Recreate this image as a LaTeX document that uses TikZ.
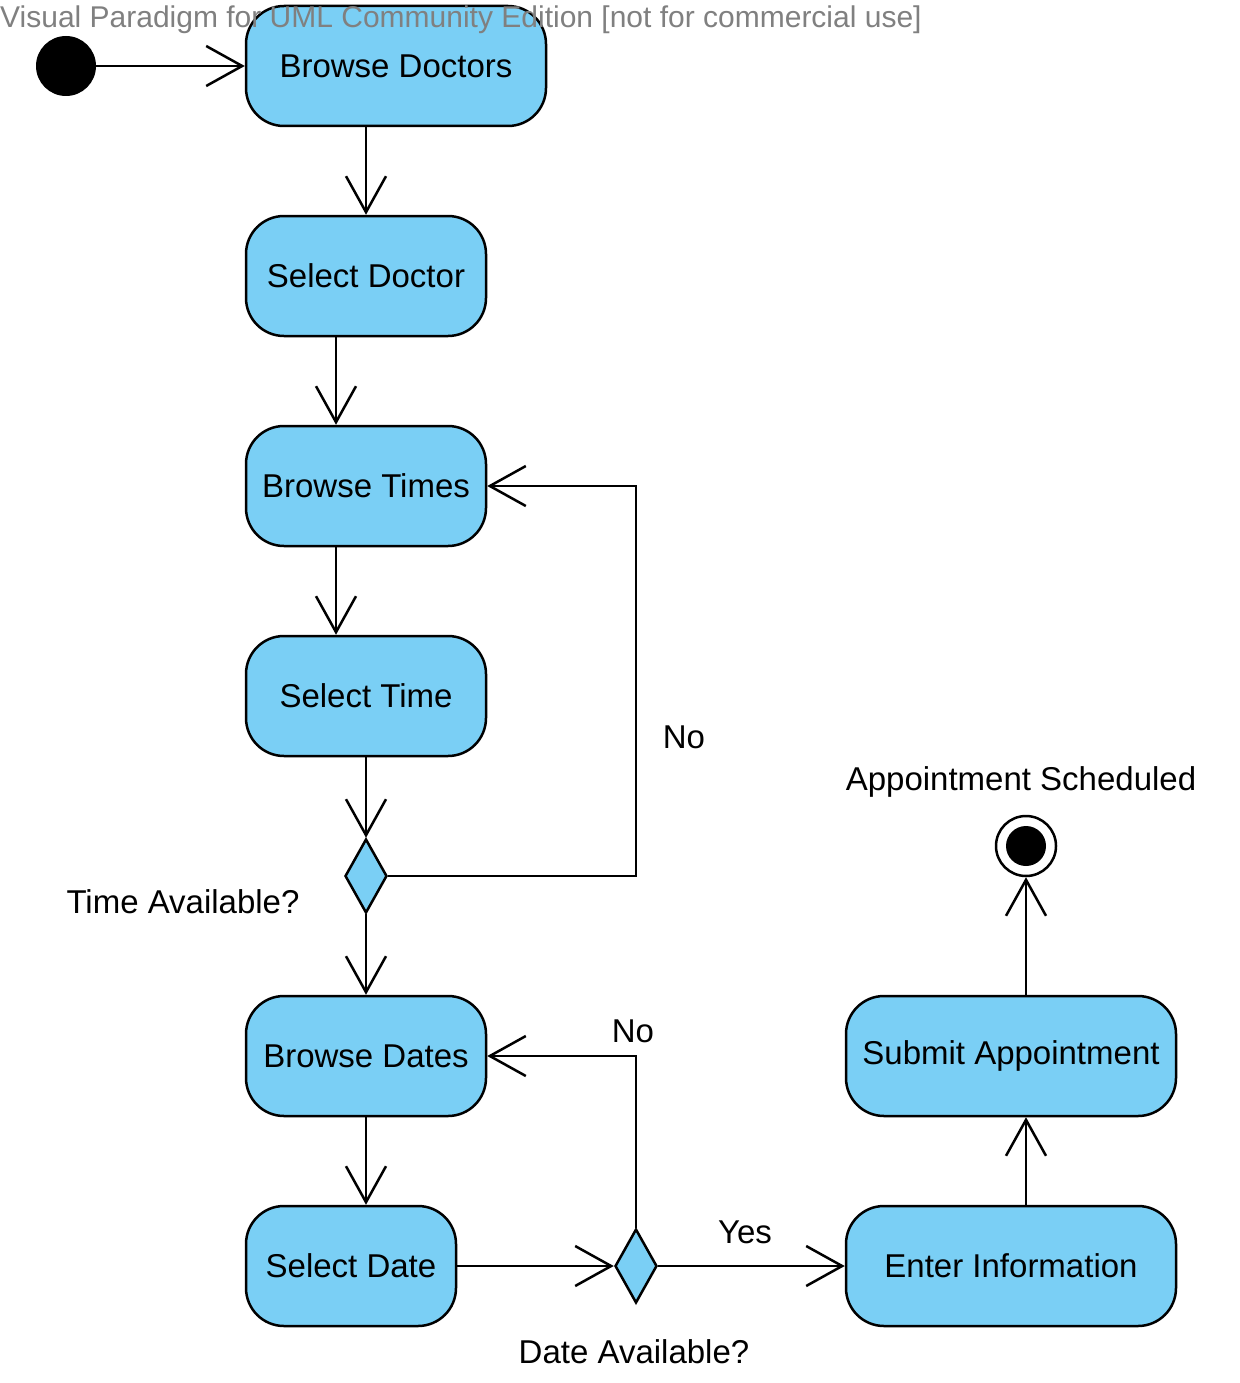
\documentclass[tikz,border=0pt]{standalone}
\usepackage{fontspec}
\setmainfont{Liberation Sans}
\usetikzlibrary{arrows.meta,shapes.geometric}
\definecolor{actfill}{HTML}{7ACFF5}
\definecolor{wmgray}{HTML}{808080}
\begin{document}
\begin{tikzpicture}[x=1pt,y=-1pt,
  txt/.style={font=\fontsize{33}{39}\selectfont},
  act/.style={draw, line width=2.5pt, fill=actfill, rounded corners=38pt,
    minimum width=#1, minimum height=120pt, inner sep=0pt, txt},
  dec/.style={diamond, draw, line width=2.5pt, fill=actfill,
    minimum width=42pt, minimum height=74pt, inner sep=0pt},
  flow/.style={draw, line width=2.5pt,
    -{Straight Barb[length=36pt,width=40pt,line width=2.5pt]}},
  lbl/.style={txt, inner sep=0pt}
]
\useasboundingbox (0,0) rectangle (1239,1383);
\fill[white] (0,0) rectangle (1239,1383);

\node[fill=black, circle, minimum size=60pt, inner sep=0pt] (init) at (66,66) {};
\node[act=300pt] (bdoc) at (396,66) {Browse Doctors};
\node[act=240pt] (sdoc) at (366,276) {Select Doctor};
\node[act=240pt] (btime) at (366,486) {Browse Times};
\node[act=240pt] (stime) at (366,696) {Select Time};
\node[dec] (d1) at (366,876) {};
\node[act=240pt] (bdate) at (366,1056) {Browse Dates};
\node[act=210pt] (sdate) at (351,1266) {Select Date};
\node[dec] (d2) at (636,1266) {};
\node[act=330pt] (einfo) at (1011,1266) {Enter Information};
\node[act=330pt] (sub) at (1011,1056) {Submit Appointment};
\node[circle, draw, line width=2.5pt, minimum size=60pt, inner sep=0pt] (fin) at (1026,846) {};
\node[circle, fill=black, minimum size=40pt, inner sep=0pt] (finin) at (fin) {};

\coordinate (x1) at (336,0);
\coordinate (x3) at (1026,0);
\coordinate (r1) at (636,876);

\draw[flow] (init.east) -- (bdoc.west);
\draw[flow] (bdoc.south -| sdoc.north) -- (sdoc.north);
\draw[flow] (sdoc.south -| x1) -- (btime.north -| x1);
\draw[flow] (btime.south -| x1) -- (stime.north -| x1);
\draw[flow] (stime.south) -- (d1.north);
\draw[flow] (d1.south) -- (bdate.north);
\draw[flow] (d1.east) -- (r1) |- (btime.east);
\draw[flow] (bdate.south) -- (bdate.south |- sdate.north);
\draw[flow] (sdate.east) -- (d2.west);
\draw[flow] (d2.north) |- (bdate.east);
\draw[flow] (d2.east) -- (einfo.west);
\draw[flow] (einfo.north -| x3) -- (sub.south -| x3);
\draw[flow] (sub.north -| x3) -- (fin.south);

\node[lbl] (lno1) at (684,737) {No};
\node[lbl] (ltime) at (183,902) {Time Available?};
\node[lbl] (lno2) at (633,1031) {No};
\node[lbl] (lyes) at (745,1232) {Yes};
\node[lbl] (ldate) at (634,1352) {Date Available?};
\node[lbl] (lapp) at (1021,782) {Appointment Scheduled};

\node[font=\fontsize{30}{36}\selectfont, anchor=west, inner sep=0pt, text=wmgray] (wmk) at (0,20)
  {Visual Paradigm for UML Community Edition [not for commercial use]};
\end{tikzpicture}
\end{document}
